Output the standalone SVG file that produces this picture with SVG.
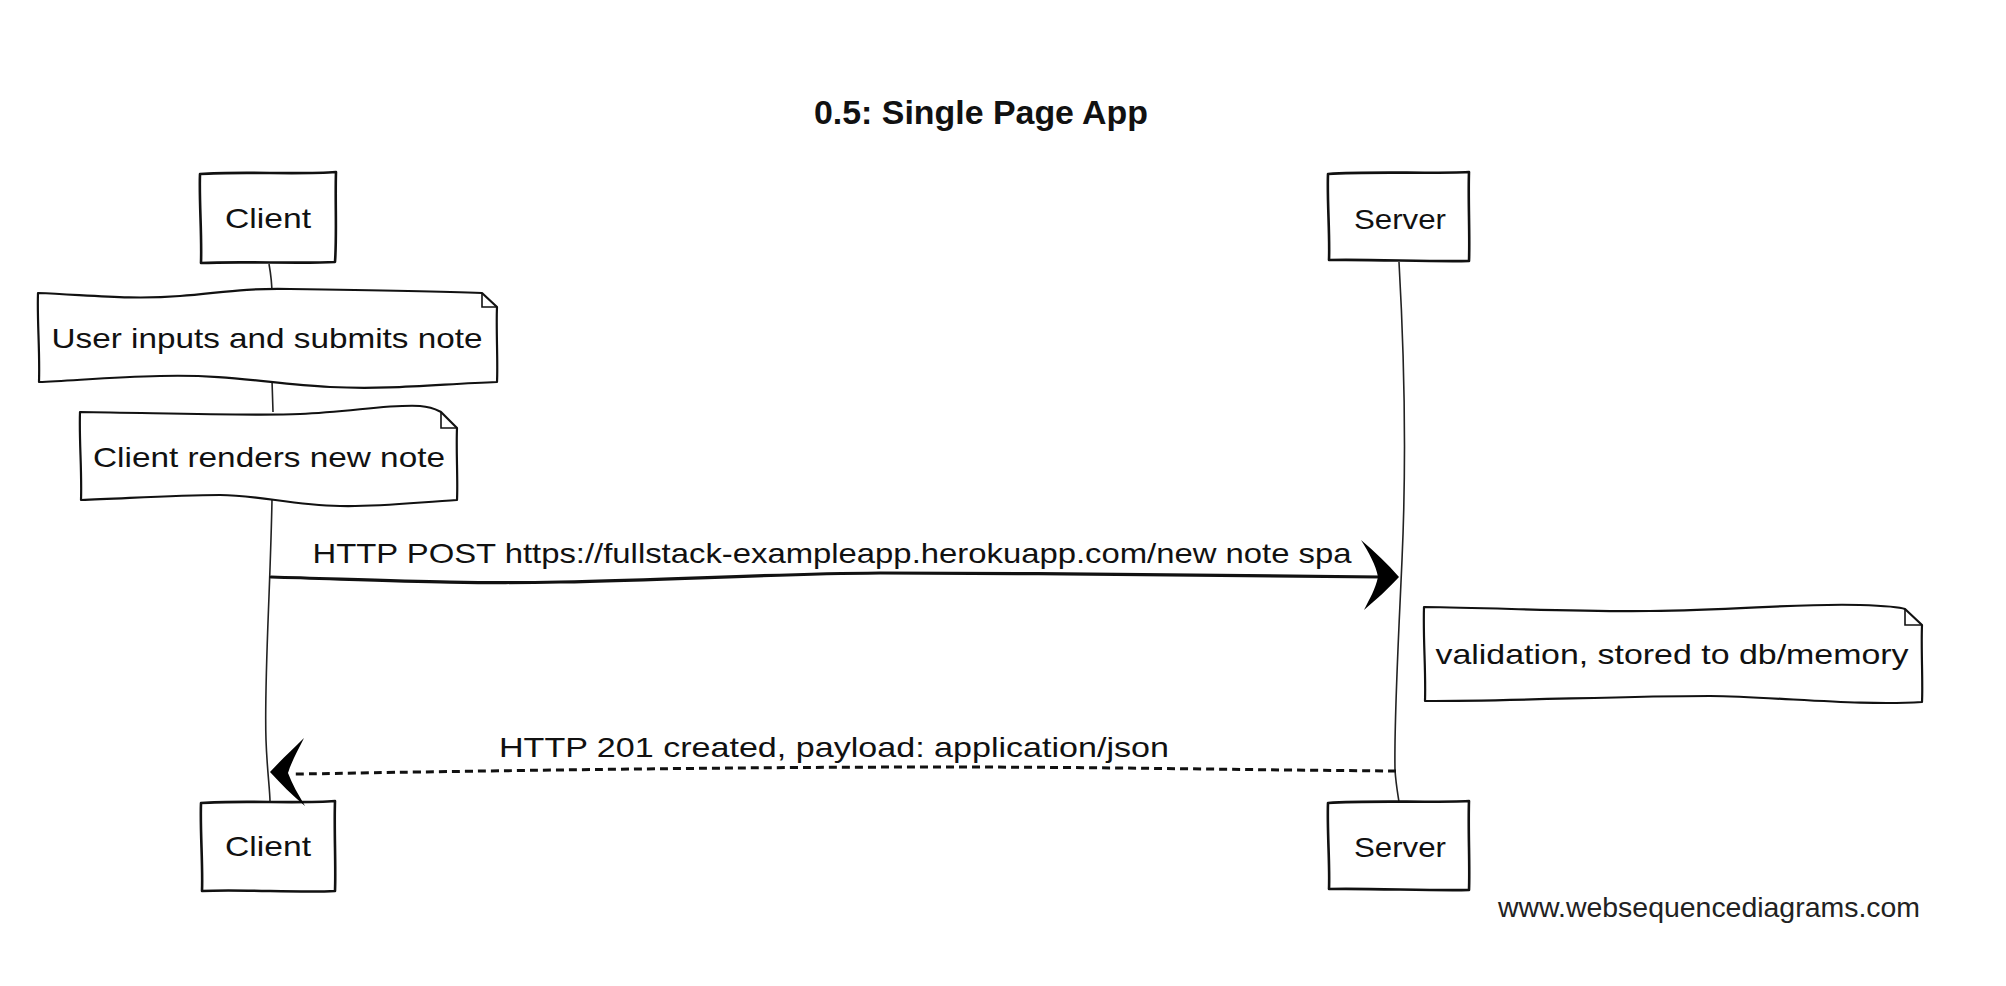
<svg xmlns="http://www.w3.org/2000/svg" width="2006" height="986" viewBox="0 0 2006 986">
<defs>
<style>
.box{fill:#fff;stroke:#111;stroke-width:2.6;stroke-linejoin:round}
.note{fill:#fff;stroke:#111;stroke-width:2.2;stroke-linejoin:round}
.fold{fill:none;stroke:#111;stroke-width:1.6}
.life{fill:none;stroke:#222;stroke-width:1.6}
.msg{fill:none;stroke:#111;stroke-width:3.2;stroke-linecap:round}
.dash{fill:none;stroke:#111;stroke-width:3;stroke-dasharray:8 5}
.head{fill:#000;stroke:none}
.t{font-family:"Liberation Sans","DejaVu Sans",sans-serif;font-size:28px;fill:#111;text-anchor:middle}
.title{font-family:"Liberation Sans","DejaVu Sans",sans-serif;font-size:34px;font-weight:bold;fill:#111;text-anchor:middle}
.wm{font-family:"Liberation Sans",Arial,sans-serif;font-size:28px;fill:#222}
</style>
</defs>
<rect width="2006" height="986" fill="#fff"/>
<text class="title" x="981" y="124" textLength="334" lengthAdjust="spacingAndGlyphs">0.5: Single Page App</text>

<g id="lifelines">
<path class="life" d="M269,264 C271,275 272,285 272,295 M272,380 L273,412 M272,500 C270,600 264,680 266,740 C267,770 270,790 270,802"/>
<path class="life" d="M1399,262 C1404,350 1407,450 1402,560 C1398,650 1394,720 1395,770 C1396,785 1398,795 1399,802"/>
</g>

<g id="client-top">
<path class="box" d="M200,174 C240,171 300,175 336,172 C335,200 337,235 335,262 C300,264 240,261 201,263 C202,235 199,200 200,174 Z"/>
<text class="t" x="268" y="228" textLength="86" lengthAdjust="spacingAndGlyphs">Client</text>
</g>
<g id="server-top">
<path class="box" d="M1328,174 C1370,171 1430,174 1469,172 C1468,200 1470,235 1469,261 C1430,262 1370,259 1329,260 C1330,235 1327,200 1328,174 Z"/>
<text class="t" x="1400" y="229" textLength="92" lengthAdjust="spacingAndGlyphs">Server</text>
</g>

<g id="note-user-inputs">
<path class="note" d="M38,293 C90,295 130,300 180,296 C220,293 240,288 290,289 C360,290 430,291 482,293 L497,307 C496,330 498,360 497,382 C440,384 390,390 330,387 C270,384 230,374 160,376 C110,377 70,381 39,382 C40,350 37,320 38,293 Z"/>
<path class="fold" d="M482,293 L482,307 L497,307"/>
<text class="t" x="267" y="348" textLength="431" lengthAdjust="spacingAndGlyphs">User inputs and submits note</text>
</g>

<g id="note-client-renders">
<path class="note" d="M80,412 C160,413 250,416 300,414 C350,412 390,404 420,406 C432,407 437,410 441,412 L457,428 C456,450 458,480 457,500 C420,502 380,507 340,506 C290,505 260,495 220,495 C170,495 120,499 81,500 C82,470 79,440 80,412 Z"/>
<path class="fold" d="M441,412 L441,428 L457,428"/>
<text class="t" x="269" y="467" textLength="352" lengthAdjust="spacingAndGlyphs">Client renders new note</text>
</g>

<g id="note-validation">
<path class="note" d="M1424,607 C1500,608 1580,612 1650,611 C1740,610 1800,603 1860,605 C1890,606 1900,607 1905,609 L1922,625 C1921,650 1923,680 1922,702 C1860,706 1780,697 1710,696 C1620,696 1520,701 1425,701 C1426,670 1423,640 1424,607 Z"/>
<path class="fold" d="M1905,609 L1905,625 L1922,625"/>
<text class="t" x="1672" y="664" textLength="473" lengthAdjust="spacingAndGlyphs">validation, stored to db/memory</text>
</g>

<g id="client-bottom">
<path class="box" d="M201,803 C240,800 300,804 335,801 C334,830 336,865 335,891 C300,893 240,889 202,891 C203,865 200,830 201,803 Z"/>
<text class="t" x="268" y="856" textLength="86" lengthAdjust="spacingAndGlyphs">Client</text>
</g>
<g id="server-bottom">
<path class="box" d="M1328,803 C1370,800 1430,803 1469,801 C1468,830 1470,865 1469,890 C1430,891 1370,888 1329,889 C1330,865 1327,830 1328,803 Z"/>
<text class="t" x="1400" y="857" textLength="92" lengthAdjust="spacingAndGlyphs">Server</text>
</g>

<g id="connectors">
<path class="msg" d="M271,577 C380,580 460,584 560,582 C680,580 760,574 880,573 C1050,573 1250,576 1380,577"/>
<path class="head" d="M1399,577 C1388,564 1375,552 1361,540 C1369,553 1376,565 1378,577 C1375,590 1370,598 1364,610 C1378,598 1389,588 1399,577 Z"/>
<text class="t" x="832" y="563" textLength="1039" lengthAdjust="spacingAndGlyphs">HTTP POST https://fullstack-exampleapp.herokuapp.com/new note spa</text>

<path class="dash" d="M1396,771 C1250,770 1100,767 950,767 C750,767 550,770 420,772 C350,773 310,774 292,774"/>
<path class="head" d="M270,772 C281,760 292,750 304,738 C297,752 291,763 288,773 C292,784 298,794 305,806 C292,795 281,784 270,772 Z"/>
<text class="t" x="834" y="757" textLength="670" lengthAdjust="spacingAndGlyphs">HTTP 201 created, payload: application/json</text>
</g>

<text class="wm" x="1498" y="917" textLength="422" lengthAdjust="spacingAndGlyphs">www.websequencediagrams.com</text>
</svg>
